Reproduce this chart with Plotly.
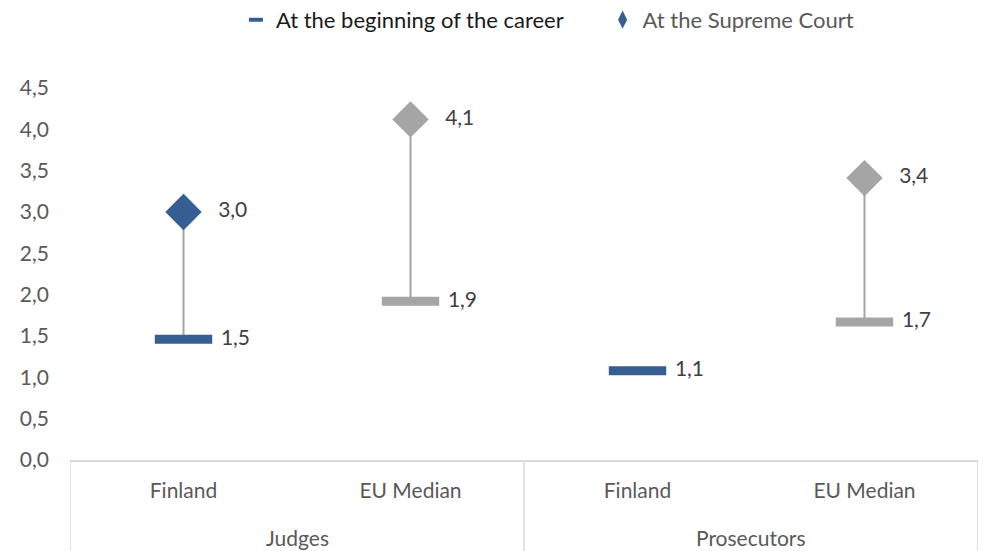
import plotly.graph_objects as go

# data
groups = ["Judges", "Prosecutors"]
countries = ["Finland", "EU Median", "Finland", "EU Median"]
beginning = [1.46, 1.92, 1.08, 1.67]
supreme = [3.0, 4.12, None, 3.41]
colors = ["#365E92", "#A5A5A5", "#365E92", "#A5A5A5"]

FONT = "Lato"
TXT = "#404040"
NB = "\u00a0"
xs = list(range(len(countries)))

fig = go.Figure()

# connector lines between start and supreme court
for x, b, s in zip(xs, beginning, supreme):
    if s is None:
        continue
    fig.add_trace(go.Scatter(x=[x, x], y=[b, s], mode="lines",
                             line=dict(color="#A5A5A5", width=2),
                             showlegend=False, hoverinfo="skip"))

fig.add_trace(go.Scatter(
    x=xs, y=beginning, mode="markers+text",
    marker=dict(symbol="line-ew", size=41, color=colors,
                line=dict(color=colors, width=9)),
    text=[NB * 2 + f"{v:.1f}".replace(".", ",") for v in beginning],
    textposition="middle right",
    textfont=dict(family=FONT, size=21, color=TXT),
    showlegend=False))

sx = [x for x, s in zip(xs, supreme) if s is not None]
sy = [s for s in supreme if s is not None]
sc = [c for c, s in zip(colors, supreme) if s is not None]
fig.add_trace(go.Scatter(
    x=sx, y=sy, mode="markers+text",
    marker=dict(symbol="diamond", size=28, color=sc, line=dict(width=0)),
    text=[NB * 3 + f"{v:.1f}".replace(".", ",") for v in sy],
    textposition="middle right",
    textfont=dict(family=FONT, size=21, color=TXT),
    showlegend=False))

# legend entries
fig.add_trace(go.Scatter(x=[None], y=[None], mode="markers",
                         name="At the beginning of the career",
                         marker=dict(symbol="line-ew", size=10, color="#365E92",
                                     line=dict(color="#365E92", width=4)),
                         legend="legend"))
fig.add_trace(go.Scatter(x=[None], y=[None], mode="markers",
                         name="At the Supreme Court",
                         marker=dict(symbol="diamond-tall", size=13, color="#365E92"),
                         legend="legend2"))

# category box below the axis
for xv in [-0.5, 1.5, 3.5]:
    fig.add_shape(type="line", xref="x", yref="paper", x0=xv, x1=xv, y0=0, y1=-0.3,
                  line=dict(color="#D9D9D9", width=1.5))

for i, g in enumerate(groups):
    fig.add_annotation(x=2 * i + 0.5, y=0, xref="x", yref="paper", yshift=-77,
                       yanchor="middle", text=g, showarrow=False,
                       font=dict(family=FONT, size=21, color="#595959"))

fig.update_xaxes(range=[-0.5, 3.5], tickvals=xs, ticktext=countries,
                 showgrid=False, zeroline=False, showline=True,
                 linecolor="#D9D9D9", linewidth=1.5, ticks="",
                 ticklabelstandoff=11,
                 tickfont=dict(family=FONT, size=21, color="#595959"))
fig.update_yaxes(range=[0, 4.5], dtick=0.5, tickformat=".1f",
                 showgrid=False, zeroline=False, showline=False,
                 ticklabelstandoff=20,
                 tickfont=dict(family=FONT, size=21, color="#595959"))

fig.update_layout(
    width=983, height=551, separators=",.",
    paper_bgcolor="white", plot_bgcolor="white",
    margin=dict(l=70, r=5, t=88, b=91),
    legend=dict(x=0.24, y=0.964, xref="container", yref="container",
                xanchor="left", yanchor="middle",
                orientation="h", font=dict(family=FONT, size=22, color="#1a1a1a"),
                itemwidth=30),
    legend2=dict(x=0.613, y=0.964, xref="container", yref="container",
                 xanchor="left", yanchor="middle",
                 orientation="h", font=dict(family=FONT, size=22, color="#595959"),
                 itemwidth=30),
)

fig.write_html("out.html", config={"displayModeBar": False},
               post_script="document.body.style.margin='0';document.body.style.overflow='hidden';")
